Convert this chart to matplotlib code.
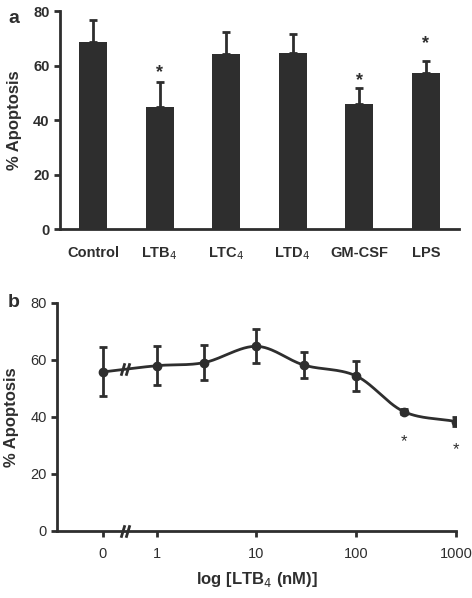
import numpy as np
import matplotlib
matplotlib.use("Agg")
import matplotlib.pyplot as plt
from matplotlib.path import Path

plt.rcParams["font.family"] = ["Liberation Sans", "DejaVu Sans"]
INK = "#2e2e2e"

# --- panel a: bar chart ---------------------------------------------------- #
bar_labels = ["Control", "LTB$_4$", "LTC$_4$", "LTD$_4$", "GM-CSF", "LPS"]
bar_means = [68.7, 44.8, 64.2, 64.7, 45.8, 57.1]
bar_errs = [7.9, 9.3, 8.0, 6.9, 5.8, 4.7]
bar_star = [False, True, False, False, True, True]
star_y_a = [None, 57.5, None, None, 54.5, 68.0]

# --- panel b: dose response ------------------------------------------------ #
conc_nM = [0, 1, 3, 10, 30, 100, 300, 1000]
dose_means = [55.7, 57.9, 59.0, 64.7, 58.1, 54.3, 41.8, 38.3]
dose_errs = [8.6, 6.8, 6.2, 5.9, 4.6, 5.4, 0.8, 1.5]
dose_star_y = {300: 31.2, 1000: 28.3}
xticks_b = [0, 1, 10, 100, 1000]
ZERO_POS = -0.54          # where the "0" concentration sits on the log axis
BREAK_POS = -0.32

# "//" break symbol as a marker
BREAK_MARK = Path([(-0.7, -1), (-0.1, 1), (0.1, -1), (0.7, 1)],
                  [Path.MOVETO, Path.LINETO, Path.MOVETO, Path.LINETO])


def xpos(c):
    return ZERO_POS if c == 0 else np.log10(c)


def catmull_rom(x, y, n=30):
    # smooth line through the points (for drawing only)
    P = np.column_stack([x, y])
    P = np.vstack([2 * P[0] - P[1], P, 2 * P[-1] - P[-2]])
    out = []
    for i in range(1, len(P) - 2):
        p0, p1, p2, p3 = P[i - 1], P[i], P[i + 1], P[i + 2]
        t = np.linspace(0, 1, n)[:, None]
        seg = 0.5 * ((2 * p1) + (-p0 + p2) * t + (2 * p0 - 5 * p1 + 4 * p2 - p3) * t**2
                     + (-p0 + 3 * p1 - 3 * p2 + p3) * t**3)
        out.append(seg)
    s = np.vstack(out)
    return s[:, 0], s[:, 1]


def style_axes(ax):
    for side in ("top", "right"):
        ax.spines[side].set_visible(False)
    for side in ("left", "bottom"):
        ax.spines[side].set_linewidth(2)
        ax.spines[side].set_color(INK)
    ax.tick_params(colors=INK, width=2, length=4, direction="out")


fig = plt.figure(figsize=(4.72, 5.98), dpi=100)

# panel a
ax = fig.add_axes([0.127, 0.617, 0.8455, 0.3646])
x = np.arange(len(bar_labels))
ax.bar(x, bar_means, width=0.42, color=INK, zorder=2)
ax.errorbar(x, bar_means, yerr=[np.zeros(len(bar_errs)), bar_errs], fmt="none",
            ecolor=INK, elinewidth=2, capsize=3, capthick=2, zorder=3)
for xi, s, sy in zip(x, bar_star, star_y_a):
    if s:
        ax.text(xi, sy, "*", ha="center", va="center", fontsize=13,
                fontweight="bold", color=INK)
ax.set_xlim(-0.5, 5.5)
ax.set_ylim(0, 80)
ax.set_yticks([0, 20, 40, 60, 80])
ax.set_xticks(x)
ax.set_xticklabels(bar_labels)
style_axes(ax)
ax.tick_params(axis="x", length=0, pad=12)
for lab in ax.get_xticklabels() + ax.get_yticklabels():
    lab.set_fontsize(10.5)
    lab.set_fontweight("bold")
ax.set_ylabel("% Apoptosis", fontsize=12, fontweight="bold", color=INK, labelpad=8)
fig.text(0.017, 0.983, "a", fontsize=14, fontweight="bold", color=INK, va="top")

# panel b
bx = fig.add_axes([0.1208, 0.1125, 0.8452, 0.3813])
xs = np.array([xpos(c) for c in conc_nM])
cx, cy = catmull_rom(xs, np.array(dose_means))
bx.plot(cx, cy, color=INK, lw=2, zorder=2)
bx.errorbar(xs, dose_means, yerr=dose_errs, fmt="o", color=INK, ms=6,
            elinewidth=2, capsize=3, capthick=2, zorder=3)
for c, sy in dose_star_y.items():
    bx.text(xpos(c), sy, "*", ha="center", va="center", fontsize=12, color=INK)
# axis breaks on the curve and on the x axis
by = np.interp(BREAK_POS, cx, cy)
bx.plot([BREAK_POS, BREAK_POS], [by, 0], ls="none", marker=BREAK_MARK, ms=9,
        mew=2, mec=INK, clip_on=False, zorder=4)
bx.set_xlim(-1, 3)
bx.set_ylim(0, 80)
bx.set_yticks([0, 20, 40, 60, 80])
bx.set_xticks([xpos(c) for c in xticks_b])
bx.set_xticklabels([str(c) for c in xticks_b])
style_axes(bx)
bx.tick_params(axis="x", pad=8)
for lab in bx.get_xticklabels() + bx.get_yticklabels():
    lab.set_fontsize(10.5)
bx.set_ylabel("% Apoptosis", fontsize=12, fontweight="bold", color=INK, labelpad=8)
bx.set_xlabel("log [LTB$_4$ (nM)]", fontsize=12, fontweight="bold", color=INK,
              labelpad=6)
fig.text(0.017, 0.508, "b", fontsize=14, fontweight="bold", color=INK, va="top")

fig.savefig("out.png", dpi=100)
